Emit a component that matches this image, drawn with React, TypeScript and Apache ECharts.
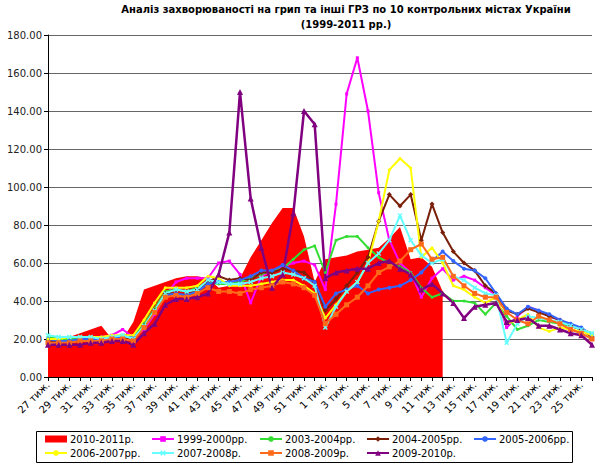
import React, { useEffect, useRef } from "react";
import * as echarts from "echarts";

const weeks = [
  "27 тиж.", "28 тиж.", "29 тиж.", "30 тиж.", "31 тиж.", "32 тиж.", "33 тиж.", "34 тиж.", "35 тиж.", "36 тиж.",
  "37 тиж.", "38 тиж.", "39 тиж.", "40 тиж.", "41 тиж.", "42 тиж.", "43 тиж.", "44 тиж.", "45 тиж.", "46 тиж.",
  "47 тиж.", "48 тиж.", "49 тиж.", "50 тиж.", "51 тиж.", "52 тиж.", "1 тиж.", "2 тиж.", "3 тиж.", "4 тиж.",
  "5 тиж.", "6 тиж.", "7 тиж.", "8 тиж.", "9 тиж.", "10 тиж.", "11 тиж.", "12 тиж.", "13 тиж.", "14 тиж.",
  "15 тиж.", "16 тиж.", "17 тиж.", "18 тиж.", "19 тиж.", "20 тиж.", "21 тиж.", "22 тиж.", "23 тиж.", "24 тиж.",
  "25 тиж.", "26 тиж.",
];

const s2010_2011 = [17, 18, 21, 23, 25, 27, 20, 20, 29, 46, 48, 50, 52, 53, 53, 52, 47, 48, 52, 63, 72, 81, 89, 89, 74, 50, 62, 63, 64, 66, 67, 68, 73, 79, 62, 63, 58, 45];
const s1999_2000 = [20, 19, 19, 20, 20, 21, 22, 25, 21, 25, 33, 43, 50, 52, 52, 52, 60, 61, 54, 39, 53, 56, 58, 60, 61, 59, 46, 91, 149, 168, 140, 97, 72, 60, 55, 42, 52, 57, 51, 53, 51, 47, 43, 26, 32, 37, 35, 32, 30, 27, 25, 22];
const s2003_2004 = [21, 20, 20, 20, 21, 21, 21, 22, 21, 28, 36, 45, 46, 45, 47, 50, 49, 49, 50, 52, 54, 56, 57, 62, 67, 69, 55, 72, 74, 74, 68, 63, 60, 58, 55, 47, 42, 44, 40, 40, 39, 33, 39, 32, 25, 27, 30, 29, 28, 27, 25, 23];
const s2004_2005 = [19, 19, 19, 19, 20, 20, 21, 21, 20, 27, 35, 44, 44, 43, 46, 50, 53, 51, 52, 51, 55, 55, 57, 56, 55, 50, 35, 41, 48, 55, 63, 82, 96, 90, 96, 72, 91, 76, 66, 60, 56, 48, 44, 35, 33, 36, 34, 32, 30, 27, 25, 21];
const s2005_2006 = [20, 19, 19, 20, 20, 20, 21, 21, 21, 26, 34, 43, 44, 43, 45, 49, 50, 50, 51, 53, 56, 56, 59, 56, 52, 50, 37, 44, 46, 48, 44, 46, 47, 48, 51, 55, 61, 66, 61, 57, 56, 52, 44, 36, 33, 37, 35, 33, 30, 28, 26, 22];
const s2006_2007 = [20, 20, 21, 21, 21, 21, 22, 22, 22, 30, 39, 47, 47, 47, 48, 53, 52, 48, 48, 48, 49, 50, 51, 51, 48, 44, 31, 38, 45, 50, 60, 82, 109, 115, 110, 63, 68, 60, 48, 46, 42, 39, 42, 28, 30, 33, 26, 24, 26, 25, 24, 22];
const s2007_2008 = [22, 21, 21, 21, 21, 20, 21, 22, 20, 27, 35, 44, 46, 45, 46, 51, 50, 49, 49, 50, 52, 53, 55, 54, 52, 48, 26, 37, 45, 50, 60, 65, 72, 85, 72, 64, 60, 62, 53, 51, 47, 44, 43, 18, 28, 32, 31, 30, 29, 27, 25, 23];
const s2008_2009 = [18, 18, 18, 19, 19, 19, 20, 20, 19, 26, 34, 42, 43, 42, 44, 47, 45, 45, 44, 46, 47, 48, 50, 49, 47, 43, 28, 33, 38, 42, 48, 55, 58, 61, 67, 70, 62, 63, 53, 48, 44, 42, 42, 34, 30, 28, 32, 30, 28, 25, 23, 20];
const s2009_2010 = [17, 17, 17, 17, 18, 18, 19, 19, 17, 23, 28, 38, 41, 41, 42, 44, 54, 76, 150, 94, 68, 47, 54, 86, 140, 133, 52, 55, 56, 57, 57, 60, 61, 57, 54, 46, 49, 44, 39, 31, 37, 38, 39, 29, 30, 31, 27, 27, 25, 23, 22, 17];

const FONT = "DejaVu Sans";
const CROSS = "path://M0,2L2,0L5,3L8,0L10,2L7,5L10,8L8,10L5,7L2,10L0,8L3,5Z";

function lineSeries(name: string, data: number[], color: string, symbol: string, symbolSize: number, width = 2) {
  return {
    type: "line",
    name,
    data,
    symbol,
    symbolSize,
    showSymbol: true,
    lineStyle: { color, width },
    itemStyle: { color },
    emphasis: { disabled: true },
  };
}

export default function App() {
  const ref = useRef<HTMLDivElement>(null);
  useEffect(() => {
    const chart = echarts.init(ref.current!, null, { renderer: "svg" });
    const legendCols = [
      [{ name: "2010-2011р.", icon: "rect" }, "2006-2007рр."],
      ["1999-2000рр.", "2007-2008р."],
      ["2003-2004рр.", "2008-2009р."],
      ["2004-2005рр.", "2009-2010р."],
      ["2005-2006рр."],
    ];
    const colLeft = [44, 151, 259, 366, 473];
    const option: any = {
      animation: false,
      backgroundColor: "#fff",
      textStyle: { fontFamily: FONT },
      grid: { left: 48, right: 8, top: 35, bottom: 91, containLabel: false },
      xAxis: {
        type: "category",
        data: weeks,
        boundaryGap: false,
        axisLine: { lineStyle: { color: "#000", width: 1 } },
        axisTick: { show: true, interval: 0, length: 4, lineStyle: { color: "#000" } },
        axisLabel: { interval: 1, rotate: 45, fontSize: 10, color: "#000", fontFamily: FONT, margin: 6 },
        splitLine: { show: false },
      },
      yAxis: {
        type: "value",
        min: 0,
        max: 180,
        interval: 20,
        axisLine: { show: true, lineStyle: { color: "#000", width: 1 } },
        axisTick: { show: true, length: 4, lineStyle: { color: "#000" } },
        axisLabel: { formatter: (v: number) => v.toFixed(2), fontSize: 10, color: "#222", fontFamily: FONT, margin: 6 },
        splitLine: { show: true, lineStyle: { color: "#666", width: 1 } },
      },
      legend: legendCols.map((d, i) => ({
        orient: "vertical",
        left: colLeft[i],
        top: 434,
        padding: 0,
        itemGap: 4,
        itemWidth: 22,
        itemHeight: 7,
        selectedMode: false,
        textStyle: { fontSize: 10, color: "#000", fontFamily: FONT, padding: [0, 0, 0, -2] },
        data: d,
      })),
      graphic: [
        {
          type: "text",
          x: 346,
          y: 9,
          style: {
            text: "Аналіз захворюваності на грип та інші ГРЗ по 10 контрольних містах України",
            fontSize: 10,
            fontWeight: "bold",
            fontFamily: FONT,
            fill: "#000",
            align: "center",
            verticalAlign: "middle",
            textAlign: "center",
            textVerticalAlign: "middle",
          },
        },
        {
          type: "text",
          x: 346,
          y: 24,
          style: {
            text: "(1999-2011 рр.)",
            fontSize: 10,
            fontWeight: "bold",
            fontFamily: FONT,
            fill: "#000",
            align: "center",
            verticalAlign: "middle",
            textAlign: "center",
            textVerticalAlign: "middle",
          },
        },
        {
          type: "rect",
          shape: { x: 36.5, y: 431.5, width: 536, height: 31 },
          style: { fill: "none", stroke: "#000", lineWidth: 1 },
        },
      ],
      series: [
        {
          type: "line",
          name: "2010-2011р.",
          data: s2010_2011,
          showSymbol: false,
          symbol: "none",
          lineStyle: { width: 0, color: "#ff0000" },
          itemStyle: { color: "#ff0000" },
          areaStyle: { color: "#ff0000", opacity: 1 },
          emphasis: { disabled: true },
          z: 1,
        },
        lineSeries("1999-2000рр.", s1999_2000, "#ff00ff", "rect", 3),
        lineSeries("2003-2004рр.", s2003_2004, "#33dd33", "circle", 3),
        lineSeries("2004-2005рр.", s2004_2005, "#7a1f08", "diamond", 5),
        lineSeries("2005-2006рр.", s2005_2006, "#3366ff", "circle", 4),
        lineSeries("2006-2007рр.", s2006_2007, "#ffff00", "circle", 3),
        lineSeries("2007-2008р.", s2007_2008, "#66ffff", CROSS, 5),
        lineSeries("2008-2009р.", s2008_2009, "#ff6a1a", "rect", 5),
        lineSeries("2009-2010р.", s2009_2010, "#800080", "triangle", 6, 2.5),
      ],
    };
    chart.setOption(option);
    return () => chart.dispose();
  }, []);
  return (
    <div
      ref={ref}
      style={{ position: "fixed", left: 0, top: 0, width: 600, height: 468, background: "#fff" }}
    />
  );
}
